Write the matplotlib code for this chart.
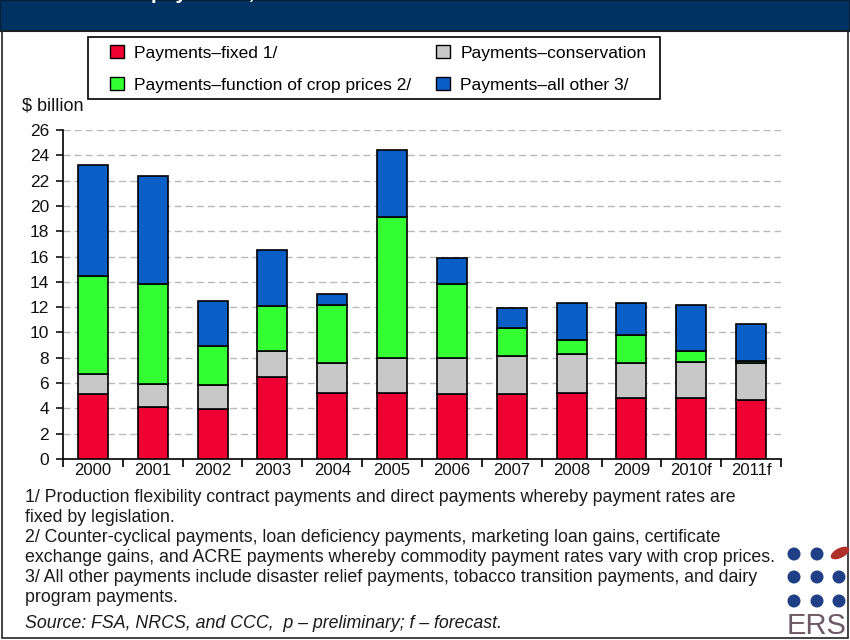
import numpy as np
import matplotlib
matplotlib.use('Agg')
from matplotlib import pyplot as plt
from matplotlib.patches import Rectangle, Patch, Ellipse

plt.rcParams['font.family'] = ['Liberation Sans', 'DejaVu Sans']

years = ['2000', '2001', '2002', '2003', '2004', '2005', '2006', '2007',
         '2008', '2009', '2010f', '2011f']
# $ billion, stacked bottom to top
fixed = [5.1, 4.1, 3.95, 6.45, 5.2, 5.2, 5.1, 5.1, 5.2, 4.8, 4.8, 4.7]
conservation = [1.6, 1.8, 1.9, 2.05, 2.4, 2.75, 2.9, 3.05, 3.1, 2.8, 2.9, 2.9]
crop_prices = [7.8, 7.95, 3.05, 3.6, 4.55, 11.15, 5.85, 2.2, 1.1, 2.2, 0.8, 0.12]
all_other = [8.75, 8.5, 3.55, 4.4, 0.9, 5.35, 2.0, 1.55, 2.95, 2.55, 3.65, 2.95]

series = [
    ('Payments\u2013fixed 1/', fixed, '#ee0033'),
    ('Payments\u2013conservation', conservation, '#c8c8c8'),
    ('Payments\u2013function of crop prices 2/', crop_prices, '#33ff33'),
    ('Payments\u2013all other 3/', all_other, '#0a5fc6'),
]

footnotes = [
    '1/ Production flexibility contract payments and direct payments whereby payment rates are',
    'fixed by legislation.',
    '2/ Counter-cyclical payments, loan deficiency payments, marketing loan gains, certificate',
    'exchange gains, and ACRE payments whereby commodity payment rates vary with crop prices.',
    '3/ All other payments include disaster relief payments, tobacco transition payments, and dairy',
    'program payments.',
]
source = 'Source: FSA, NRCS, and CCC,  p \u2013 preliminary; f \u2013 forecast.'

W, H = 850, 640
fig = plt.figure(figsize=(8.5, 6.4), dpi=100)
fig.patch.set_facecolor('white')

# header bar (title is cut off at the top like the original) and outer frame
fig.patches.append(Rectangle((0, 1 - 31 / H), 1, 31 / H, transform=fig.transFigure,
                             facecolor='#003263', edgecolor='#0b1e33', lw=1.5, zorder=0))
fig.patches.append(Rectangle((2 / W, 2 / H), 1 - 4 / W, 1 - 33 / H, transform=fig.transFigure,
                             facecolor='none', edgecolor='#222222', lw=1.2, zorder=0))
fig.text(22 / W, 1 + 1 / H, 'Government payments, 2000-2011', color='white', fontsize=15,
         fontweight='bold', va='baseline', ha='left')

ax = fig.add_axes([63 / W, (H - 459) / H, 718 / W, 329 / H])
x = np.arange(len(years))
bottom = np.zeros(len(years))
handles = []
for label, vals, col in series:
    ax.bar(x, vals, width=0.5, bottom=bottom, color=col, edgecolor='black', lw=1.2, zorder=3)
    bottom += np.array(vals)
    handles.append(Patch(facecolor=col, edgecolor='black', lw=1.0, label=label))

ax.set_xlim(-0.5, len(years) - 0.5)
ax.set_ylim(0, 26)
ax.set_yticks(np.arange(0, 27, 2))
ax.set_xticks(x)
ax.set_xticklabels(years)
ax.set_xticks(np.arange(-0.5, len(years), 1), minor=True)
ax.tick_params(axis='x', which='major', length=0, labelsize=12, pad=3, colors='#111111')
ax.tick_params(axis='x', which='minor', length=6, width=1.2, direction='out')
ax.tick_params(axis='y', length=5, width=1.2, direction='out', labelsize=12.5, pad=5,
               colors='#111111')
for y in range(2, 27, 2):
    ax.axhline(y, color='#b8b8b8', lw=1.0, ls=(0, (5, 3)), zorder=1)
for s in ['top', 'right']:
    ax.spines[s].set_visible(False)
ax.spines['left'].set_linewidth(1.2)
ax.spines['bottom'].set_linewidth(1.2)

fig.text(22 / W, 1 - 106 / H, '$ billion', fontsize=13, va='center', ha='left', color='#111111')

# legend box drawn separately so the entries can sit inside it freely
fig.patches.append(Rectangle((88 / W, 1 - 99 / H), 572 / W, 62 / H, transform=fig.transFigure,
                             facecolor='white', edgecolor='black', lw=1.2, zorder=1))
order = [handles[0], handles[2], handles[1], handles[3]]
leg = fig.legend(handles=order, ncol=2, loc='upper left',
                 bbox_to_anchor=(110 / W, 1 - 45 / H), frameon=False,
                 fontsize=12.5, handlelength=0.8, handleheight=0.8, handletextpad=0.6,
                 columnspacing=1.4, borderpad=0, labelspacing=0.95, borderaxespad=0)
leg.set_zorder(2)

ys = [497, 517, 537, 557, 577, 597]
for yy, line in zip(ys, footnotes):
    fig.text(25 / W, 1 - yy / H, line, fontsize=12.8, va='center', ha='left', color='#1a1a1a')
fig.text(25 / W, 1 - 624 / H, source, fontsize=12.8, va='center', ha='left',
         style='italic', color='#1a1a1a')

# ERS logo
for r, yy in enumerate([554, 577, 601]):
    for c, xx in enumerate([794, 817, 839]):
        if r == 0 and c == 2:
            continue
        fig.patches.append(Ellipse((xx / W, 1 - yy / H), 13 / W, 13 / H,
                                   transform=fig.transFigure,
                                   facecolor='#1f3f86', edgecolor='none'))
fig.patches.append(Ellipse((840 / W, 1 - 553 / H), 22 / W, 9 / H, angle=40,
                           transform=fig.transFigure, facecolor='#b0302a', edgecolor='none'))
fig.text(817 / W, 1 - 626 / H, 'ERS', fontsize=21, color='#6e5a66', ha='center', va='center')

fig.savefig('out.png', dpi=100)
